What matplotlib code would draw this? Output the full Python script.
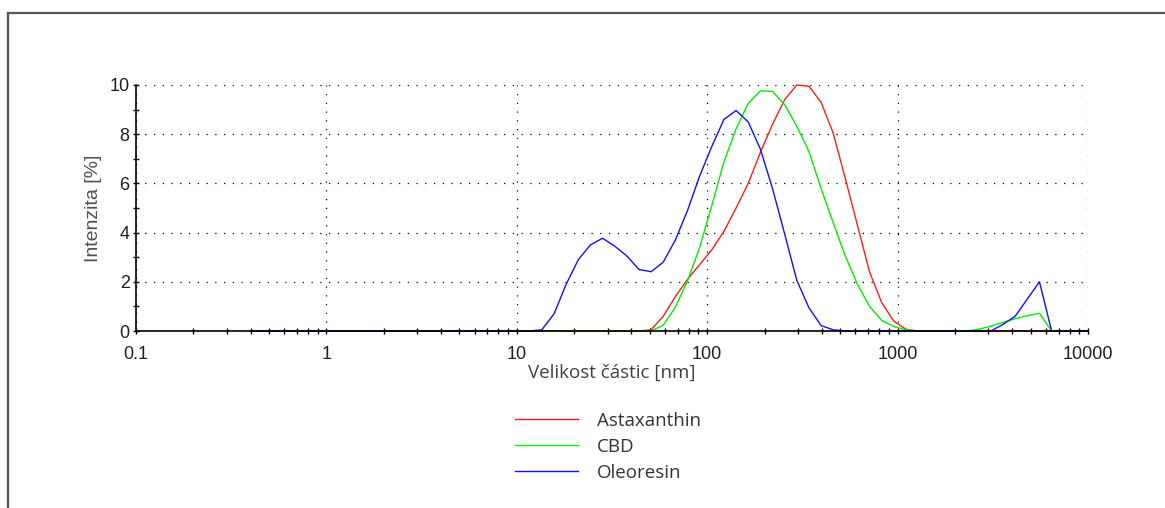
import numpy as np
import matplotlib
matplotlib.use('Agg')
import matplotlib.pyplot as plt
from matplotlib.ticker import MultipleLocator, LogLocator, NullFormatter
from matplotlib.lines import Line2D

#---------DATA------------
# size classes [nm]
velikost = [0.4, 0.4632, 0.5365, 0.6213, 0.7195, 0.8332, 0.9649, 1.117, 1.294, 1.499,
            1.736, 2.010, 2.328, 2.696, 3.122, 3.615, 4.187, 4.849, 5.615, 6.503,
            7.531, 8.721, 10.10, 11.70, 13.54, 15.69, 18.17, 21.04, 24.36, 28.21,
            32.67, 37.84, 43.82, 50.75, 58.77, 68.06, 78.82, 91.28, 105.7, 122.4,
            141.8, 164.2, 190.1, 220.2, 255.0, 295.3, 342.0, 396.1, 458.7, 531.2,
            615.1, 712.4, 825.0, 955.4, 1106, 1281, 1484, 1718, 1990, 2305,
            2669, 3091, 3580, 4145, 4801, 5560, 6439, 7456, 8635, 10000]

# intensity [%], same order as velikost (10 values per row)
astaxanthin = [0, 0, 0, 0, 0, 0, 0, 0, 0, 0,
               0, 0, 0, 0, 0, 0, 0, 0, 0, 0,
               0, 0, 0, 0, 0, 0, 0, 0, 0, 0,
               0, 0, 0, 0.05, 0.6, 1.4, 2.1, 2.7, 3.3, 4.05,
               5.0, 6.0, 7.25, 8.4, 9.4, 10.0, 9.95, 9.3, 8.05, 6.2,
               4.3, 2.4, 1.15, 0.4, 0.07, 0, 0, 0, 0, 0,
               0, 0, 0, 0, 0, 0, 0, 0, 0, 0]

cbd = [0, 0, 0, 0, 0, 0, 0, 0, 0, 0,
       0, 0, 0, 0, 0, 0, 0, 0, 0, 0,
       0, 0, 0, 0, 0, 0, 0, 0, 0, 0,
       0, 0, 0, 0, 0.24, 0.97, 2.04, 3.4, 5.1, 6.87,
       8.22, 9.25, 9.76, 9.74, 9.2, 8.33, 7.3, 5.8, 4.4, 3.05,
       1.9, 1.0, 0.43, 0.18, 0.05, 0, 0, 0, 0, 0,
       0.07, 0.2, 0.35, 0.5, 0.62, 0.72, 0, 0, 0, 0]

oleoresin = [0, 0, 0, 0, 0, 0, 0, 0, 0, 0,
             0, 0, 0, 0, 0, 0, 0, 0, 0, 0,
             0, 0, 0, 0, 0.05, 0.7, 1.9, 2.9, 3.5, 3.77,
             3.45, 3.05, 2.5, 2.41, 2.8, 3.7, 4.9, 6.3, 7.5, 8.6,
             8.96, 8.5, 7.4, 5.8, 3.95, 2.07, 0.95, 0.22, 0.05, 0,
             0, 0, 0, 0, 0, 0, 0, 0, 0, 0,
             0, 0, 0.27, 0.6, 1.3, 2.0, 0, 0, 0, 0]

series = [('Astaxanthin', astaxanthin, '#ff1a1a'),
          ('CBD', cbd, '#00ee00'),
          ('Oleoresin', oleoresin, '#1010ff')]

xticks = [0.1, 1, 10, 100, 1000, 10000]
xtick_labels = ['0.1', '1', '10', '100', '1000', '10000']
yticks = [0, 2, 4, 6, 8, 10]

#---------PLOT------------
fig = plt.figure(figsize=(11.65, 5.08), dpi=100)
ax = fig.add_axes([136/1165, 1-331/508, (1088-136)/1165, (331-85)/508])

for name, vals, col in series:
    ax.plot(velikost, vals, color=col, lw=1.0, label=name, clip_on=False)

ax.set_xscale('log')
ax.set_xlim(0.1, 10000)
ax.set_ylim(0, 10)

ax.set_xticks(xticks)
ax.set_xticklabels(xtick_labels)
ax.xaxis.set_minor_locator(LogLocator(base=10, subs=np.arange(2, 10)))
ax.xaxis.set_minor_formatter(NullFormatter())
ax.set_yticks(yticks)
ax.yaxis.set_minor_locator(MultipleLocator(1))

ax.tick_params(which='both', direction='inout', length=5, width=1, color='black')
ax.tick_params(axis='y', pad=2)
ax.tick_params(axis='x', pad=8)
for lab in ax.get_xticklabels() + ax.get_yticklabels():
    lab.set_fontfamily('Liberation Sans')
    lab.set_fontsize(13)
    lab.set_color('#1e1e2a')

ax.grid(which='major', color='black', linestyle=(0, (1, 6)), lw=0.9)
ax.set_axisbelow(True)
ax.spines['top'].set_visible(False)
ax.spines['right'].set_visible(False)
ax.spines['left'].set_linewidth(1.2)
ax.spines['bottom'].set_linewidth(1.2)

ax.set_xlabel('Velikost částic [nm]', fontfamily='Open Sans', fontsize=13.5, color='#404040')
ax.xaxis.set_label_coords(0.5, -0.135)
ax.set_ylabel('Intenzita [%]', fontfamily='Liberation Sans', fontsize=14, color='#505050')
ax.yaxis.set_label_coords(-0.036, 0.5)

handles, labels = ax.get_legend_handles_labels()
leg = fig.legend(handles, labels, loc='upper left', bbox_to_anchor=(515/1165, 1-412/508),
                 frameon=False, borderpad=0, borderaxespad=0, handlelength=3.35,
                 handletextpad=1.0, labelspacing=0.42,
                 prop={'family': 'Open Sans', 'size': 13.5})
for t in leg.get_texts():
    t.set_color('#333333')

# outer frame (top and left edges visible in the screenshot)
fig.add_artist(Line2D([7.5/1165, 1], [1-13/508, 1-13/508], color='#555555', lw=1.6))
fig.add_artist(Line2D([7.5/1165, 7.5/1165], [0, 1-13/508], color='#555555', lw=1.6))

fig.savefig('out.png', dpi=100)
